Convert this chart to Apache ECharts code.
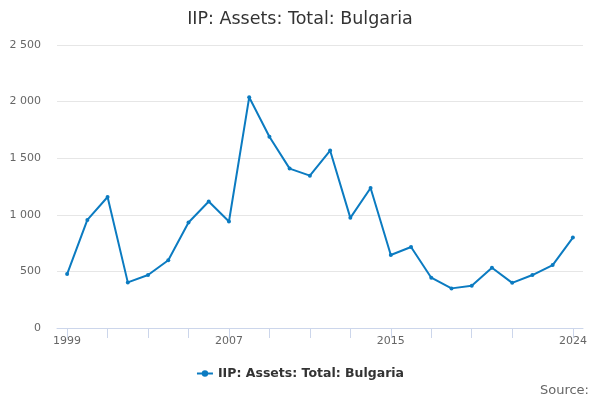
<!DOCTYPE html>
<html><head><meta charset="utf-8">
<script src="https://cdn.jsdelivr.net/npm/echarts@6/dist/echarts.min.js"></script>
<style>html,body{margin:0;padding:0;background:#fff}#c{width:600px;height:400px}</style>
</head><body><div id="c"></div>
<script>
const years = ['1999','2000','2001','2002','2003','2004','2005','2006','2007','2008','2009','2010','2011','2012','2013','2014','2015','2016','2017','2018','2019','2020','2021','2022','2023','2024'];
const assets = [476,955,1157,403,468,598,932,1118,941,2038,1690,1408,1346,1568,973,1237,645,716,444,350,373,532,399,468,556,799];
const seriesName = 'IIP: Assets: Total: Bulgaria';
const chart = echarts.init(document.getElementById('c'));
const fmt = v => String(v).replace(/\B(?=(\d{3})+(?!\d))/g, ' ');
const last = years.length - 1;
chart.setOption({
  animation: false,
  textStyle: {fontFamily: 'DejaVu Sans'},
  title: {text: seriesName, left: 'center', top: 5, textStyle: {fontFamily: 'DejaVu Sans', fontSize: 17.5, fontWeight: 'normal', color: '#333'}},
  graphic: [{type: 'text', right: 11, top: 384, style: {text: 'Source:', fontFamily: 'DejaVu Sans', fontSize: 13, fill: '#666'}}],
  legend: {bottom: 15, left: 'center', itemWidth: 16, itemHeight: 8, textStyle: {fontFamily: 'DejaVu Sans', fontSize: 12.5, fontWeight: 'bold', color: '#333'}, data: [seriesName]},
  grid: {left: 57, right: 17, top: 45, bottom: 72},
  xAxis: {type: 'category', data: years, boundaryGap: true,
    axisLine: {show: true, lineStyle: {color: '#ccd6eb'}},
    axisTick: {show: true, alignWithLabel: true, length: 10, lineStyle: {color: '#ccd6eb'}, interval: (i) => (i % 2 === 0 && i < last - 1) || i === last},
    axisLabel: {show: true, color: '#666', fontSize: 11, margin: 8, showMaxLabel: true, interval: (i) => (i % 8 === 0 && i < last - 2) || i === last}},
  yAxis: {type: 'value', min: 0, max: 2500, interval: 500,
    axisLabel: {color: '#666', fontSize: 11, formatter: fmt, margin: 16},
    splitLine: {lineStyle: {color: '#e6e6e6'}}},
  series: [{name: seriesName, type: 'line', data: assets, color: '#0b7bc1', symbol: 'circle', symbolSize: 4, lineStyle: {width: 2}}]
});
</script></body></html>
